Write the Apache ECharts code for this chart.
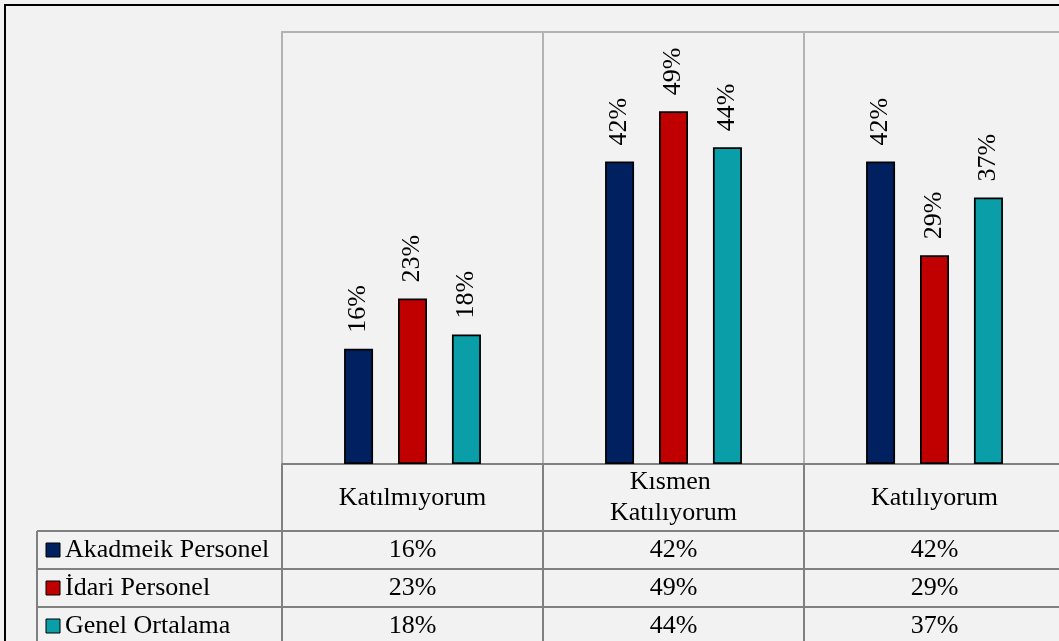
<!DOCTYPE html>
<html>
<head>
<meta charset="utf-8">
<script src="https://cdn.jsdelivr.net/npm/echarts@6/dist/echarts.min.js"></script>
<style>
html,body{margin:0;padding:0;background:#f2f2f2;}
#c{width:1059px;height:641px;}
</style>
</head>
<body>
<div id="c"></div>
<script>
const categories = ['Katılmıyorum', 'Kısmen Katılıyorum', 'Katılıyorum'];
const seriesNames = ['Akadmeik Personel', 'İdari Personel', 'Genel Ortalama'];
const akademik = [16, 42, 42];
const idari = [23, 49, 29];
const genel = [18, 44, 37];
const seriesData = [akademik, idari, genel];
const colors = ['#002060', '#c00000', '#099ea8'];

const FONT = "'Liberation Serif', 'Times New Roman', serif";
const FS = 26;

const chart = echarts.init(document.getElementById('c'), null, {renderer: 'canvas'});

const GRID = {left: 282, top: 32, width: 783, height: 432};

chart.setOption({
  backgroundColor: '#f2f2f2',
  animation: false,
  grid: {left: GRID.left, top: GRID.top, width: GRID.width, height: GRID.height,
         outerBoundsMode: 'none', containLabel: false,
         show: true, borderColor: '#b3b3b3', borderWidth: 2, backgroundColor: 'transparent'},
  xAxis: {
    type: 'category',
    data: categories,
    axisLine: {show: true, lineStyle: {color: '#808080', width: 2}},
    axisTick: {show: false},
    splitLine: {show: true, lineStyle: {color: '#b3b3b3', width: 2}},
    axisLabel: {
      color: '#000', fontFamily: FONT, fontSize: FS, lineHeight: 31,
      margin: 34, verticalAlign: 'middle', align: 'center',
      width: 200, overflow: 'break', interval: 0
    }
  },
  yAxis: {type: 'value', min: 0, max: 60, show: false, splitLine: {show: false}},
  series: seriesNames.map((n, i) => ({
    name: n,
    type: 'bar',
    data: seriesData[i],
    barWidth: 29,
    barGap: '86%',
    itemStyle: {color: colors[i], borderColor: '#000', borderWidth: 1.75},
    label: {
      show: true, position: 'top', rotate: 90, align: 'left', verticalAlign: 'middle',
      distance: 16, formatter: '{c}%', color: '#000', fontFamily: FONT, fontSize: FS
    }
  }))
});

// Data table under the chart
const rowTop = 531, rowH = 38;
const tableLeft = 37, plotLeft = GRID.left, plotRight = GRID.left + GRID.width;
const axisY = GRID.top + GRID.height;
const lineColor = '#808080';
const g = [];
// outer border
g.push({type: 'rect', shape: {x: 5, y: 5, width: 1200, height: 800},
        style: {fill: 'none', stroke: '#000', lineWidth: 2}, z: 100});
// horizontal lines
g.push({type: 'line', shape: {x1: plotLeft, y1: rowTop, x2: plotRight, y2: rowTop}, style: {stroke: lineColor, lineWidth: 2}});
g.push({type: 'line', shape: {x1: tableLeft, y1: rowTop, x2: plotLeft, y2: rowTop}, style: {stroke: lineColor, lineWidth: 2}});
for (let r = 1; r <= seriesNames.length; r++) {
  const y = rowTop + r * rowH;
  g.push({type: 'line', shape: {x1: tableLeft, y1: y, x2: plotRight, y2: y}, style: {stroke: lineColor, lineWidth: 2}});
}
// vertical lines
const bottom = rowTop + seriesNames.length * rowH + 10;
g.push({type: 'line', shape: {x1: tableLeft, y1: rowTop, x2: tableLeft, y2: bottom}, style: {stroke: lineColor, lineWidth: 2}});
const catW = GRID.width / categories.length;
for (let k = 0; k <= categories.length; k++) {
  const x = plotLeft + k * catW;
  g.push({type: 'line', shape: {x1: x, y1: axisY, x2: x, y2: bottom}, style: {stroke: lineColor, lineWidth: 2}});
}
// legend cells and values
seriesNames.forEach((n, i) => {
  const cy = rowTop + i * rowH + rowH / 2;
  g.push({type: 'rect', shape: {x: 46, y: cy - 7, width: 14, height: 14},
          style: {fill: colors[i], stroke: '#000', lineWidth: 1}});
  g.push({type: 'text', x: 65, y: cy, style: {text: n, fill: '#000', font: FS + 'px ' + FONT,
          textAlign: 'left', textVerticalAlign: 'middle'}});
  categories.forEach((c, j) => {
    const cx = chart.convertToPixel({xAxisIndex: 0}, c);
    g.push({type: 'text', x: cx, y: cy, style: {text: seriesData[i][j] + '%', fill: '#000',
            font: FS + 'px ' + FONT, textAlign: 'center', textVerticalAlign: 'middle'}});
  });
});
chart.setOption({graphic: g.map(e => Object.assign({silent: true}, e))});
</script>
</body>
</html>
